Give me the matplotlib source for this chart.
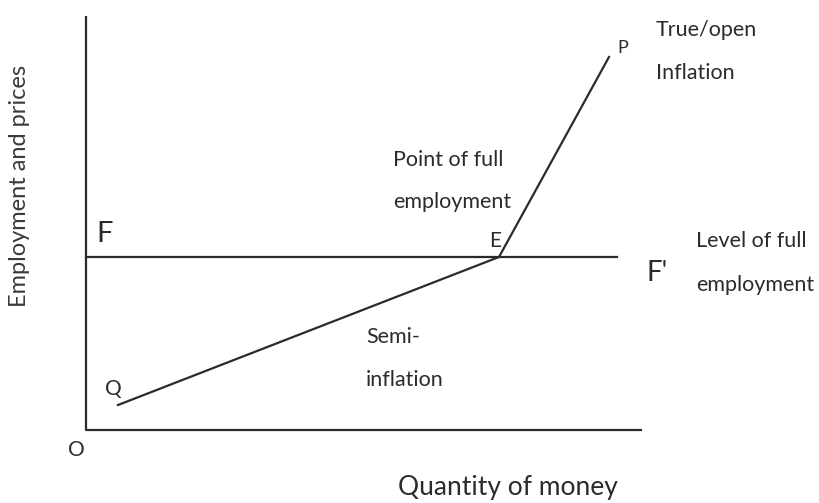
import matplotlib
matplotlib.use("Agg")
import matplotlib.pyplot as plt

# diagram geometry (pixel-like units, y grows downwards)
axis_x = [86, 86, 642]
axis_y = [16, 430, 430]
full_emp_x = [86, 617]
full_emp_y = [257, 257]
curve_x = [118, 499, 609]      # Q, E, P
curve_y = [405, 257, 57]

labels = [
    ("O", 68, 450, 15), ("F", 96, 234, 21), ("F'", 647, 273, 20),
    ("E", 489, 241, 15), ("P", 617, 48, 13), ("Q", 105, 389, 15),
    ("True/open", 656, 30, 15.5), ("Inflation", 656, 73, 15.5),
    ("Point of full", 393, 160, 15.5), ("employment", 393, 202, 15.5),
    ("Level of full", 696, 241, 15.5), ("employment", 696, 285, 15.5),
    ("Semi-", 366, 337, 15.5), ("inflation", 366, 380, 15.5),
]

plt.rcParams["font.family"] = ["Lato", "DejaVu Sans"]
fig = plt.figure(figsize=(8.2, 5.03), dpi=100)
ax = fig.add_axes([0, 0, 1, 1])
ax.set_xlim(0, 820)
ax.set_ylim(503, 0)
ax.axis("off")

ink = "#2b2b2b"
ax.plot(axis_x, axis_y, color=ink, lw=1.6, solid_capstyle="butt")
ax.plot(full_emp_x, full_emp_y, color=ink, lw=1.6)
ax.plot(curve_x, curve_y, color=ink, lw=1.6)

for txt, x, y, fs in labels:
    ax.text(x, y, txt, fontsize=fs, color=ink, ha="left", va="center")

ax.text(508, 487, "Quantity of money", fontsize=19, color=ink,
        ha="center", va="center")
ax.text(20, 186, "Employment and prices", fontsize=17, color="#3a3a3a",
        rotation=90, ha="center", va="center")

fig.savefig("out.png", dpi=100)
